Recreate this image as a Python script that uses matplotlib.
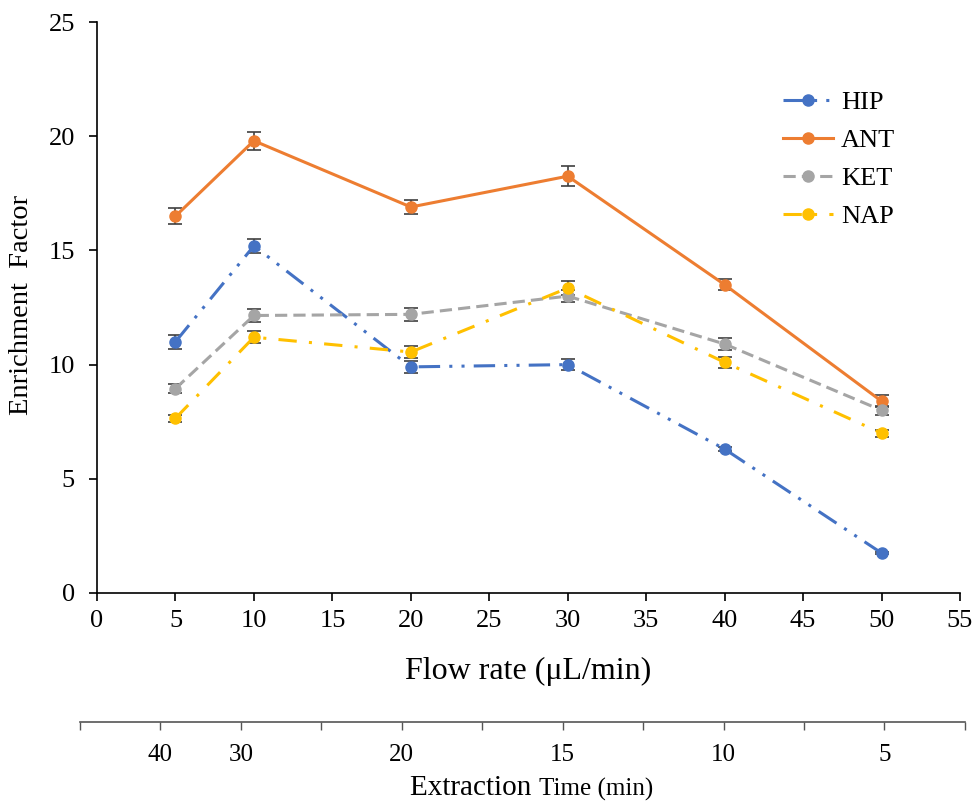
import matplotlib
matplotlib.use("Agg")
import matplotlib.pyplot as plt

flow_rate = [5, 10, 20, 30, 40, 50]
series_names = ["HIP", "ANT", "KET", "NAP"]
hip = [11.0, 15.2, 9.9, 10.0, 6.3, 1.75]
ant = [16.5, 19.8, 16.9, 18.25, 13.5, 8.4]
ket = [8.95, 12.15, 12.2, 13.0, 10.9, 8.0]
nap = [7.65, 11.2, 10.55, 13.35, 10.1, 7.0]
hip_err = [0.3, 0.3, 0.25, 0.25, 0.1, 0.05]
ant_err = [0.35, 0.4, 0.3, 0.45, 0.25, 0.25]
ket_err = [0.2, 0.3, 0.3, 0.25, 0.25, 0.2]
nap_err = [0.15, 0.25, 0.25, 0.3, 0.25, 0.15]
time_labels = ["", "40", "30", "", "20", "", "15", "", "10", "", "5", ""]

plt.rcParams['font.family'] = ['Liberation Serif', 'DejaVu Serif']

fig = plt.figure(figsize=(9.74, 8.01), dpi=100)
ax = fig.add_axes([0.0996, 0.2597, 0.886, 0.7128])

colors = ["#4472C4", "#ED7D31", "#A5A5A5", "#FFC000"]
styles = [(0, (7, 3, 1, 3, 1, 3)), "-", (0, (4, 2)), (0, (6, 4, 1, 4))]
data = [hip, ant, ket, nap]
errs = [hip_err, ant_err, ket_err, nap_err]

for name, y, e, c, ls in zip(series_names, data, errs, colors, styles):
    ax.errorbar(flow_rate, y, yerr=e, fmt='none', ecolor='#404040',
                elinewidth=1.2, capsize=5, capthick=1.2, zorder=2)
    ax.plot(flow_rate, y, color=c, linestyle=ls, linewidth=2.2,
            marker='o', markersize=8, label=name, zorder=3)

ax.set_xlim(0, 55)
ax.set_ylim(0, 25)
ax.set_xticks(range(0, 56, 5))
ax.set_yticks(range(0, 26, 5))
for s in ['top', 'right']:
    ax.spines[s].set_visible(False)
for s in ['left', 'bottom']:
    ax.spines[s].set_linewidth(1.2)
ax.tick_params(axis='both', direction='out', length=6, width=1.2, labelsize=19)
ax.tick_params(axis='x', pad=6)
ax.tick_params(axis='y', pad=10)
ax.set_xlabel("Flow rate (μL/min)", fontsize=23, labelpad=18)
ax.set_ylabel("Enrichment  Factor", fontsize=20.5)
ax.yaxis.set_label_coords(-0.073, 0.505)

leg = ax.legend(loc='upper left', bbox_to_anchor=(0.795, 0.88), frameon=False,
                fontsize=19, handlelength=1.9, labelspacing=0.55, handletextpad=0.3,
                borderpad=0, borderaxespad=0)

ax2 = fig.add_axes([0.0821, 0.0986, 0.9086, 0.0001])
ax2.set_xlim(0, 11)
ax2.set_ylim(0, 1)
for s in ['top', 'right', 'left']:
    ax2.spines[s].set_visible(False)
ax2.spines['bottom'].set_color('#555555')
ax2.spines['bottom'].set_linewidth(1.2)
ax2.set_yticks([])
ax2.set_xticks(range(0, 12))
ax2.set_xticklabels(time_labels)
ax2.tick_params(axis='x', direction='out', length=6, width=1, color='#555555',
                labelsize=18, pad=10)
ax2.set_xticks([0], minor=True)
ax2.tick_params(axis='x', which='minor', direction='inout', length=10, width=1, color='#555555')

t1 = fig.text(0.421, 0.008, "Extraction ", fontsize=21, ha='left', va='baseline')
ax2.annotate("Time (min)", xy=(1, 0), xycoords=t1, fontsize=18, ha='left', va='bottom',
             annotation_clip=False)

fig.savefig("out.png", dpi=100)
